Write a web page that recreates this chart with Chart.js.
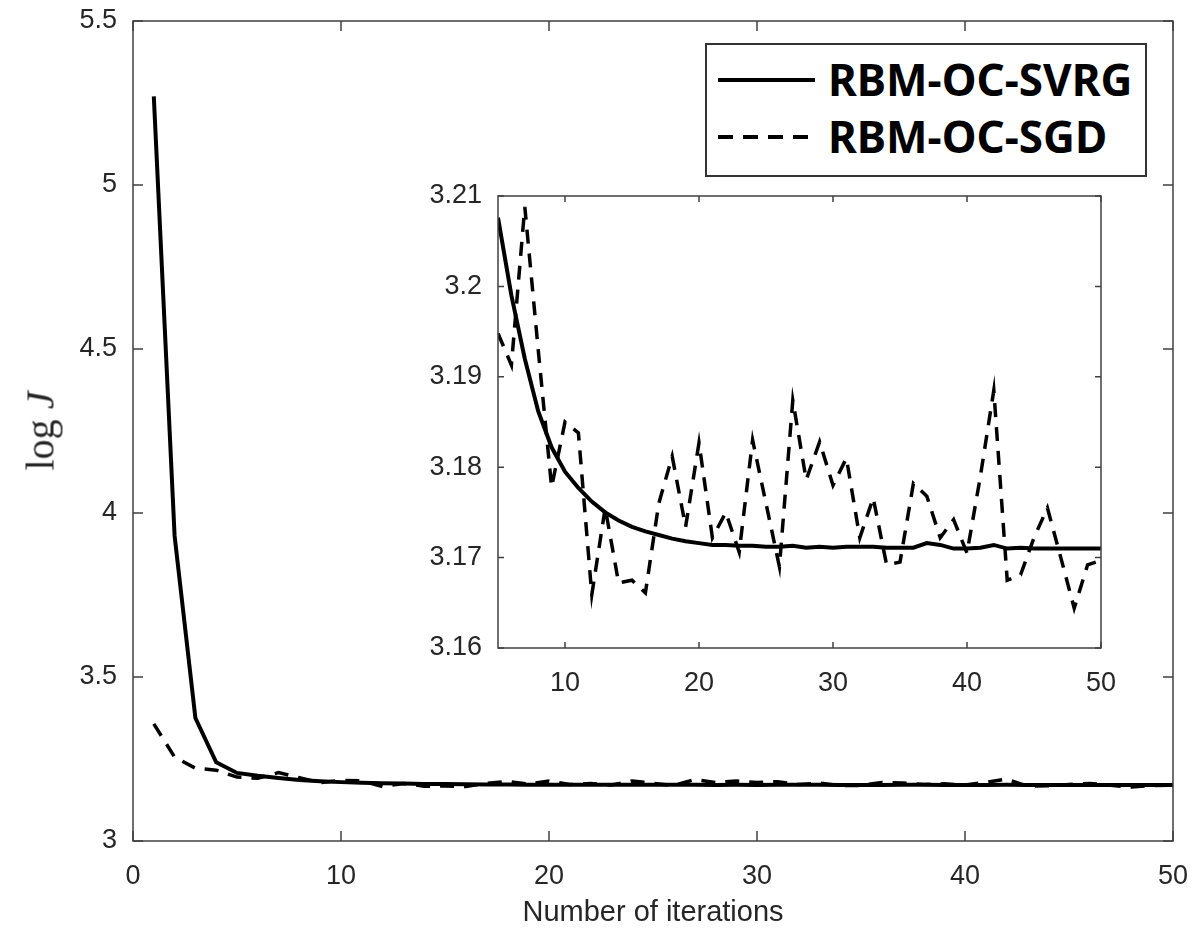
<!DOCTYPE html>
<html>
<head>
<meta charset="utf-8">
<script src="https://cdn.jsdelivr.net/npm/chart.js@4.4.0/dist/chart.umd.min.js"></script>
<style>
    html, body { margin: 0; padding: 0; background: #fff; }
    #wrap { position: relative; width: 1197px; height: 940px; overflow: hidden; }
    #mainChart { position: absolute; left: 0; top: 0; }
    #insetChart { position: absolute; left: 400px; top: 170px; }
    #ylabel {
        position: absolute; left: 40px; top: 431px;
        transform: translate(-50%, -50%) rotate(-90deg);
        font-family: "Liberation Serif", serif; font-size: 40px; color: #262626;
        white-space: nowrap;
    }
    #legend {
        position: absolute; left: 705px; top: 43px; width: 442px; height: 134px;
        box-sizing: border-box; border: 2px solid #333; background: #fff;
        font-family: "Noto Sans", sans-serif; font-weight: bold; font-size: 44px; color: #000;
    }
    #legend .txt { position: absolute; left: 121px; line-height: 44px; white-space: nowrap; }
    #legend .sample { position: absolute; left: 11px; width: 97px; height: 4px; }
    #legend .solid { background: #000; }
    #legend .dashed { background: repeating-linear-gradient(to right, #000 0 15px, transparent 15px 25px); }
</style>
</head>
<body>
<div id="wrap">
    <canvas id="mainChart" width="1197" height="940"></canvas>
    <canvas id="insetChart" width="720" height="540"></canvas>
    <div id="ylabel">log <i>J</i></div>
    <div id="legend">
        <div class="sample solid" style="top:33px"></div>
        <div class="txt" style="top:12px">RBM-OC-SVRG</div>
        <div class="sample dashed" style="top:90px"></div>
        <div class="txt" style="top:69px">RBM-OC-SGD</div>
    </div>
</div>
<script>
const iterations = [1, 2, 3, 4, 5, 6, 7, 8, 9, 10,
    11, 12, 13, 14, 15, 16, 17, 18, 19, 20,
    21, 22, 23, 24, 25, 26, 27, 28, 29, 30,
    31, 32, 33, 34, 35, 36, 37, 38, 39, 40,
    41, 42, 43, 44, 45, 46, 47, 48, 49, 50];

// log J, RBM-OC-SVRG (solid)
const svrg = [5.27, 3.93, 3.375, 3.24, 3.2076, 3.1990, 3.1920, 3.1862, 3.1822, 3.1795,
    3.1777, 3.1762, 3.1750, 3.1741, 3.1734, 3.1729, 3.1725, 3.1721, 3.1718, 3.1716,
    3.1714, 3.1714, 3.1713, 3.1713, 3.1712, 3.1712, 3.1713, 3.1711, 3.1712, 3.1711,
    3.1712, 3.1712, 3.1712, 3.1711, 3.1711, 3.1711, 3.1716, 3.1714, 3.1710, 3.1710,
    3.1711, 3.1714, 3.1710, 3.1711, 3.1710, 3.1710, 3.1710, 3.1710, 3.1710, 3.1710];

// log J, RBM-OC-SGD (dashed)
const sgd = [3.357, 3.256, 3.222, 3.216, 3.1948, 3.1913, 3.2088, 3.1930, 3.1778, 3.1850,
    3.1838, 3.1659, 3.1755, 3.1672, 3.1675, 3.1661, 3.1760, 3.1812, 3.1734, 3.1827,
    3.1722, 3.1750, 3.1706, 3.1830, 3.1760, 3.1690, 3.1874, 3.1786, 3.1828, 3.1780,
    3.1810, 3.1722, 3.1766, 3.1692, 3.1695, 3.1782, 3.1768, 3.1722, 3.1742, 3.1705,
    3.1790, 3.1885, 3.1675, 3.1681, 3.1722, 3.1755, 3.1700, 3.1644, 3.1692, 3.1697];

const mainXTicks = [0, 10, 20, 30, 40, 50];
const mainYTicks = [3, 3.5, 4, 4.5, 5, 5.5];
const insetXTicks = [10, 20, 30, 40, 50];
const insetYTicks = [3.16, 3.17, 3.18, 3.19, 3.2, 3.21];
const insetStart = 5;

const axisColor = '#404040';
const tickFont = { family: '"Liberation Sans", Arial, sans-serif', size: 27 };
const titleFont = { family: '"Liberation Sans", Arial, sans-serif', size: 29 };

// white plot box, frame and inward ticks on all four sides (matlab style)
const frameTicks = {
    id: 'frameTicks',
    beforeDatasetsDraw(chart) {
        const { ctx, chartArea: a } = chart;
        ctx.save();
        ctx.fillStyle = '#fff';
        ctx.fillRect(a.left, a.top, a.right - a.left, a.bottom - a.top);
        ctx.restore();
    },
    afterDraw(chart, args, opts) {
        const { ctx, chartArea: a, scales: { x, y } } = chart;
        const len = opts.len;
        ctx.save();
        ctx.strokeStyle = axisColor;
        ctx.lineWidth = opts.width;
        ctx.strokeRect(a.left, a.top, a.right - a.left, a.bottom - a.top);
        ctx.beginPath();
        x.ticks.forEach(t => {
            const px = x.getPixelForValue(t.value);
            ctx.moveTo(px, a.bottom); ctx.lineTo(px, a.bottom - len);
            ctx.moveTo(px, a.top); ctx.lineTo(px, a.top + len);
        });
        y.ticks.forEach(t => {
            const py = y.getPixelForValue(t.value);
            ctx.moveTo(a.left, py); ctx.lineTo(a.left + len, py);
            ctx.moveTo(a.right, py); ctx.lineTo(a.right - len, py);
        });
        ctx.stroke();
        ctx.restore();
    }
};

function makeDatasets(from) {
    const idx = iterations.map((it, i) => i).filter(i => iterations[i] >= from);
    return [
        {
            label: 'RBM-OC-SVRG',
            data: idx.map(i => ({ x: iterations[i], y: svrg[i] })),
            borderColor: '#000',
            borderWidth: 4,
            pointRadius: 0,
            tension: 0
        },
        {
            label: 'RBM-OC-SGD',
            data: idx.map(i => ({ x: iterations[i], y: sgd[i] })),
            borderColor: '#000',
            borderWidth: 3.5,
            borderDash: [14, 10],
            pointRadius: 0,
            tension: 0
        }
    ];
}

function axis(opts) {
    return {
        type: 'linear',
        min: opts.min,
        max: opts.max,
        afterBuildTicks: s => { s.ticks = opts.ticks.map(v => ({ value: v })); },
        afterFit: s => {
            opts.fit(s);
            // let layout.padding alone decide where the plot box sits
            s.paddingLeft = s.paddingRight = s.paddingTop = s.paddingBottom = 0;
        },
        grid: { display: false, drawTicks: false },
        border: { display: false },
        ticks: {
            autoSkip: false,
            maxRotation: 0,
            padding: opts.padding,
            font: tickFont,
            color: '#262626',
            callback: v => String(v)
        },
        title: opts.title || { display: false }
    };
}

new Chart(document.getElementById('mainChart'), {
    type: 'line',
    data: { datasets: makeDatasets(iterations[0]) },
    options: {
        responsive: false,
        animation: false,
        events: [],
        layout: { padding: { left: 0, right: 24, top: 21, bottom: 0 } },
        plugins: {
            legend: { display: false },
            tooltip: { enabled: false },
            frameTicks: { width: 1.5, len: 10 }
        },
        scales: {
            x: axis({
                min: 0, max: 50, ticks: mainXTicks, padding: 19,
                fit: s => { s.height = 99; },
                title: {
                    display: true,
                    text: 'Number of iterations',
                    color: '#262626',
                    font: titleFont,
                    padding: { top: 0, bottom: 10 }
                }
            }),
            y: axis({
                min: 3, max: 5.5, ticks: mainYTicks, padding: 16,
                fit: s => { s.width = 133; }
            })
        }
    },
    plugins: [frameTicks]
});

new Chart(document.getElementById('insetChart'), {
    type: 'line',
    data: { datasets: makeDatasets(insetStart) },
    options: {
        responsive: false,
        animation: false,
        events: [],
        layout: { padding: { left: 0, right: 19, top: 26, bottom: 0 } },
        plugins: {
            legend: { display: false },
            tooltip: { enabled: false },
            frameTicks: { width: 1.5, len: 6 }
        },
        scales: {
            x: axis({
                min: 5, max: 50, ticks: insetXTicks, padding: 19,
                fit: s => { s.height = 62; }
            }),
            y: axis({
                min: 3.16, max: 3.21, ticks: insetYTicks, padding: 16,
                fit: s => { s.width = 98; }
            })
        }
    },
    plugins: [frameTicks]
});
</script>
</body>
</html>
